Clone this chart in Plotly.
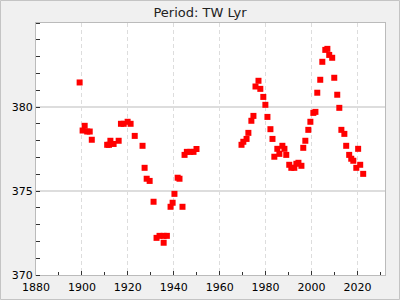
import plotly.graph_objects as go

title_text = "Period: TW Lyr"
years = [1899, 1900.3, 1901.2, 1902.3, 1903.4, 1904.3, 1911, 1911.8, 1912.4, 1913.8,
         1916, 1917, 1918.2, 1919.9, 1921.2, 1923, 1926.4, 1927.3, 1928.2, 1929.5,
         1931.2, 1932.5, 1933.8, 1935.6, 1935.6, 1937, 1938.6, 1939.5, 1940.3, 1941.7,
         1942.5, 1943.8, 1944.7, 1945.7, 1947.2, 1948.6, 1949.9,
         1969.5, 1970.3, 1971.7, 1972.5, 1973.8, 1974.7, 1975.6, 1976.9, 1977.7, 1979,
         1979.9, 1980.8, 1982.1, 1983, 1983.8, 1985.1, 1986, 1987.3, 1988.2, 1989,
         1990.3, 1991.2, 1992.5, 1993.4, 1994.3, 1995.6, 1996.4, 1997.3, 1998.6, 1999.5,
         2000.8, 2001.7, 2002.5, 2003.8, 2004.7, 2006, 2006.9, 2007.7, 2009, 2009.9,
         2011.2, 2012.1, 2013, 2014.3, 2015.1, 2016.4, 2017.3, 2018.2, 2019.5, 2020.3,
         2021.2, 2022.5]
periods = [381.46, 378.6, 378.88, 378.54, 378.54, 378.05, 377.75, 377.75, 377.99, 377.8,
           377.99, 379.0, 379.0, 379.12, 379.0, 378.28, 377.69, 376.38, 375.73, 375.6,
           374.36, 372.21, 372.33, 372.33, 371.92, 372.33, 374.06, 374.3, 374.83, 375.79,
           375.73, 374.06, 377.15, 377.33, 377.33, 377.33, 377.5,
           377.75, 377.93, 378.1, 378.46, 379.18, 379.47, 381.22, 381.56, 381.08, 380.6,
           380.13, 379.41, 378.68, 378.1, 377.04, 377.51, 377.21, 377.69, 377.51, 377.15,
           376.56, 376.38, 376.38, 376.62, 376.68, 376.5, 377.57, 377.99, 378.64, 379.12,
           379.65, 379.71, 380.85, 381.62, 382.69, 383.4, 383.46, 383.1, 382.93, 381.74,
           380.73, 379.95, 378.64, 378.4, 377.69, 377.15, 376.92, 376.8, 376.38, 377.51,
           376.56, 376.02]
y_tick_values = [370, 375, 380]

fig = go.Figure(go.Scatter(
    x=years, y=periods, mode="markers",
    marker=dict(symbol="square", size=6, color="#ff0000", line=dict(width=0)),
    hoverinfo="skip"))

fig.update_layout(
    width=400, height=300,
    margin=dict(l=36, r=15, t=23, b=25),
    paper_bgcolor="#f0f0f0", plot_bgcolor="#ffffff",
    font=dict(family="DejaVu Sans", size=11, color="#000000"),
    title=dict(text=title_text, x=0.5, xanchor="center", y=0.96, yanchor="middle",
               font=dict(size=13, color="#222222")),
    showlegend=False,
    shapes=[dict(type="rect", xref="paper", yref="paper",
                 x0=(0.5 - 36) / 349, x1=(399.5 - 36) / 349,
                 y0=(275 - 299.5) / 252, y1=(275 - 0.5) / 252,
                 line=dict(color="#c4c4c4", width=1), fillcolor="rgba(0,0,0,0)", layer="below")],
)
fig.update_xaxes(
    range=[1880, 2032], dtick=20, tick0=1880, automargin=False,
    showgrid=True, gridcolor="#dddddd", griddash="4px,3px", gridwidth=1,
    ticks="inside", ticklen=4, tickcolor="#333333", ticklabelstandoff=2,
    minor=dict(dtick=10, tick0=1880, ticks="inside", ticklen=3, tickcolor="#333333", showgrid=False),
    showline=True, linecolor="#bbbbbb", linewidth=1, mirror=True, zeroline=False,
)
fig.update_yaxes(
    range=[370, 385], tickvals=y_tick_values, automargin=False,
    showgrid=True, gridcolor="#dddddd", gridwidth=1.5,
    ticks="",
    minor=dict(dtick=1, tick0=370, ticks="inside", ticklen=4, tickcolor="#333333", showgrid=False),
    showline=True, linecolor="#bbbbbb", linewidth=1, mirror=True, zeroline=False,
)

fig.write_html("out.html")
